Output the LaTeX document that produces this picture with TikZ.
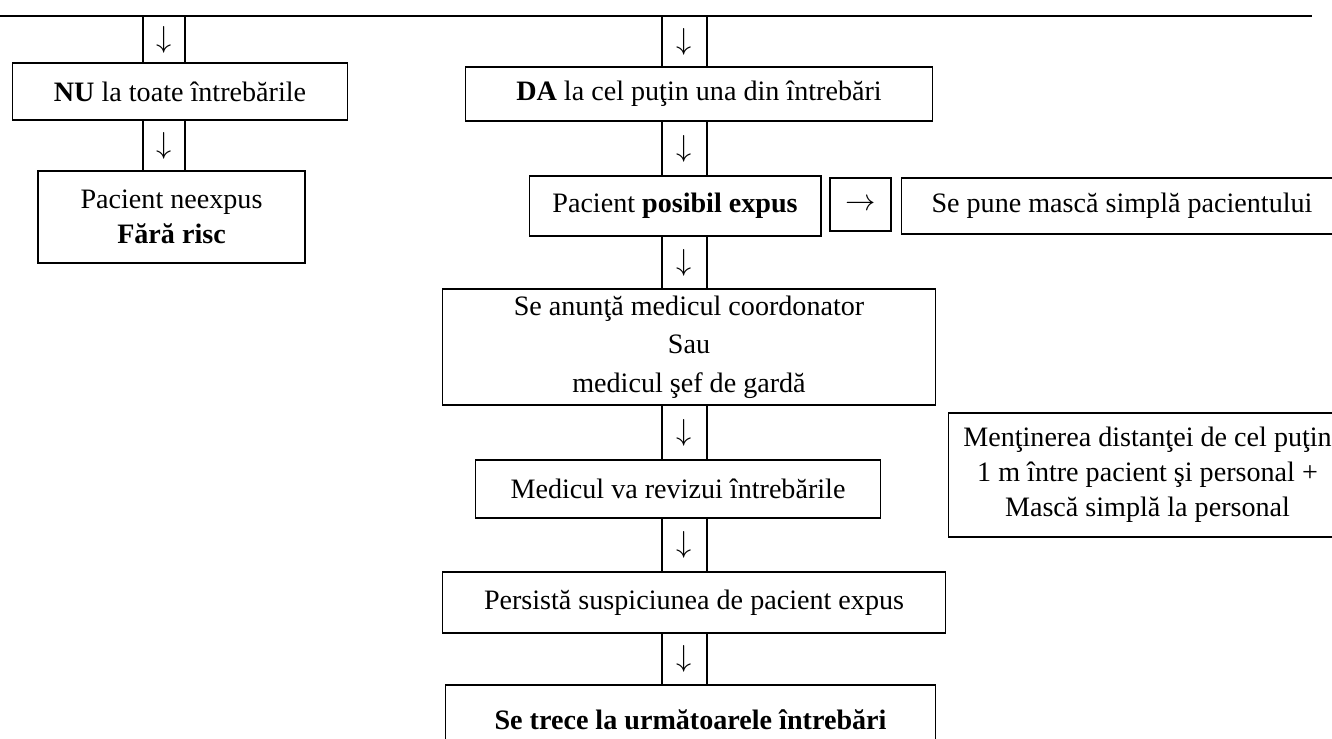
\documentclass[tikz,border=0pt]{standalone}
\usepackage{fontspec}
\setmainfont{Liberation Serif}
\usepackage{tikz}

\tikzset{
  caseta/.style={draw, line width=0.6pt, inner sep=0pt, align=center},
  sageata/.style={draw, line width=0.6pt, inner sep=0pt, minimum width=0.9cm},
}

\begin{document}
\begin{tikzpicture}[x=0.02cm, y=-0.02cm, font=\fontsize{16}{20}\selectfont]
      \useasboundingbox (0,0) rectangle (1332,738);
      \clip (0,0) rectangle (1332,738);
      % linia de sus
      \coordinate (linA) at (0,16);
      \coordinate (linB) at (1312,16);
      \draw[line width=0.6pt] (linA) -- (linB);
      % coloana stanga
      \node[sageata, minimum width=0.84cm, minimum height=0.94cm] (a1) at (164,39.5) {$\downarrow$};
      \node[caseta, minimum width=6.72cm, minimum height=1.14cm] (nu) at (180,91.5) {\textbf{NU} la toate întrebările};
      \node[sageata, minimum width=0.84cm, minimum height=1.02cm] (a2) at (164,145.5) {$\downarrow$};
      \node[caseta, minimum width=5.34cm, minimum height=1.84cm, font=\fontsize{16}{20}\selectfont] (neexpus) at (171.5,217) {Pacient neexpus\\ \textbf{Fără risc}};
      % coloana centrala
      \node[sageata, minimum height=1.02cm] (c1) at (684.5,41.5) {$\downarrow$};
      \node[caseta, minimum width=9.36cm, minimum height=1.08cm] (da) at (699,94) {\textbf{DA} la cel puţin una din întrebări};
      \node[sageata, minimum height=1.1cm] (c2) at (684.5,148.5) {$\downarrow$};
      \node[caseta, minimum width=5.84cm, minimum height=1.2cm] (posibil) at (675,206) {Pacient \textbf{posibil expus}};
      \node[sageata, minimum width=1.22cm, minimum height=1.06cm] (dreapta) at (860.5,204.5) {$\rightarrow$};
      \node[caseta, minimum width=8.84cm, minimum height=1.12cm] (masca) at (1122,206) {Se pune mască simplă pacientului};
      \node[sageata, minimum height=1.06cm] (c3) at (684.5,262.5) {$\downarrow$};
      \node[caseta, minimum width=9.88cm, minimum height=2.32cm, font=\fontsize{16}{22}\selectfont] (anunta) at (689,347) {Se anunţă medicul coordonator\\ Sau\\ medicul şef de gardă};
      \node[sageata, minimum height=1.1cm] (c4) at (684.5,432.5) {$\downarrow$};
      \node[caseta, minimum width=8.12cm, minimum height=1.16cm] (revizui) at (678,489) {Medicul va revizui întrebările};
      \node[caseta, minimum width=7.98cm, minimum height=2.48cm] (distanta) at (1147.5,475) {Menţinerea distanţei de cel puţin\\ 1 m între pacient şi personal +\\ Mască simplă la personal};
      \node[sageata, minimum height=1.08cm] (c5) at (684.5,545) {$\downarrow$};
      \node[caseta, minimum width=10.08cm, minimum height=1.22cm] (persista) at (694,602.5) {Persistă suspiciunea de pacient expus};
      \node[sageata, minimum height=1.04cm] (c6) at (684.5,659) {$\downarrow$};
      \node[caseta, minimum width=9.82cm, minimum height=1.4cm] (trece) at (690.5,720) {\textbf{Se trece la următoarele întrebări}};
\end{tikzpicture}
\end{document}
